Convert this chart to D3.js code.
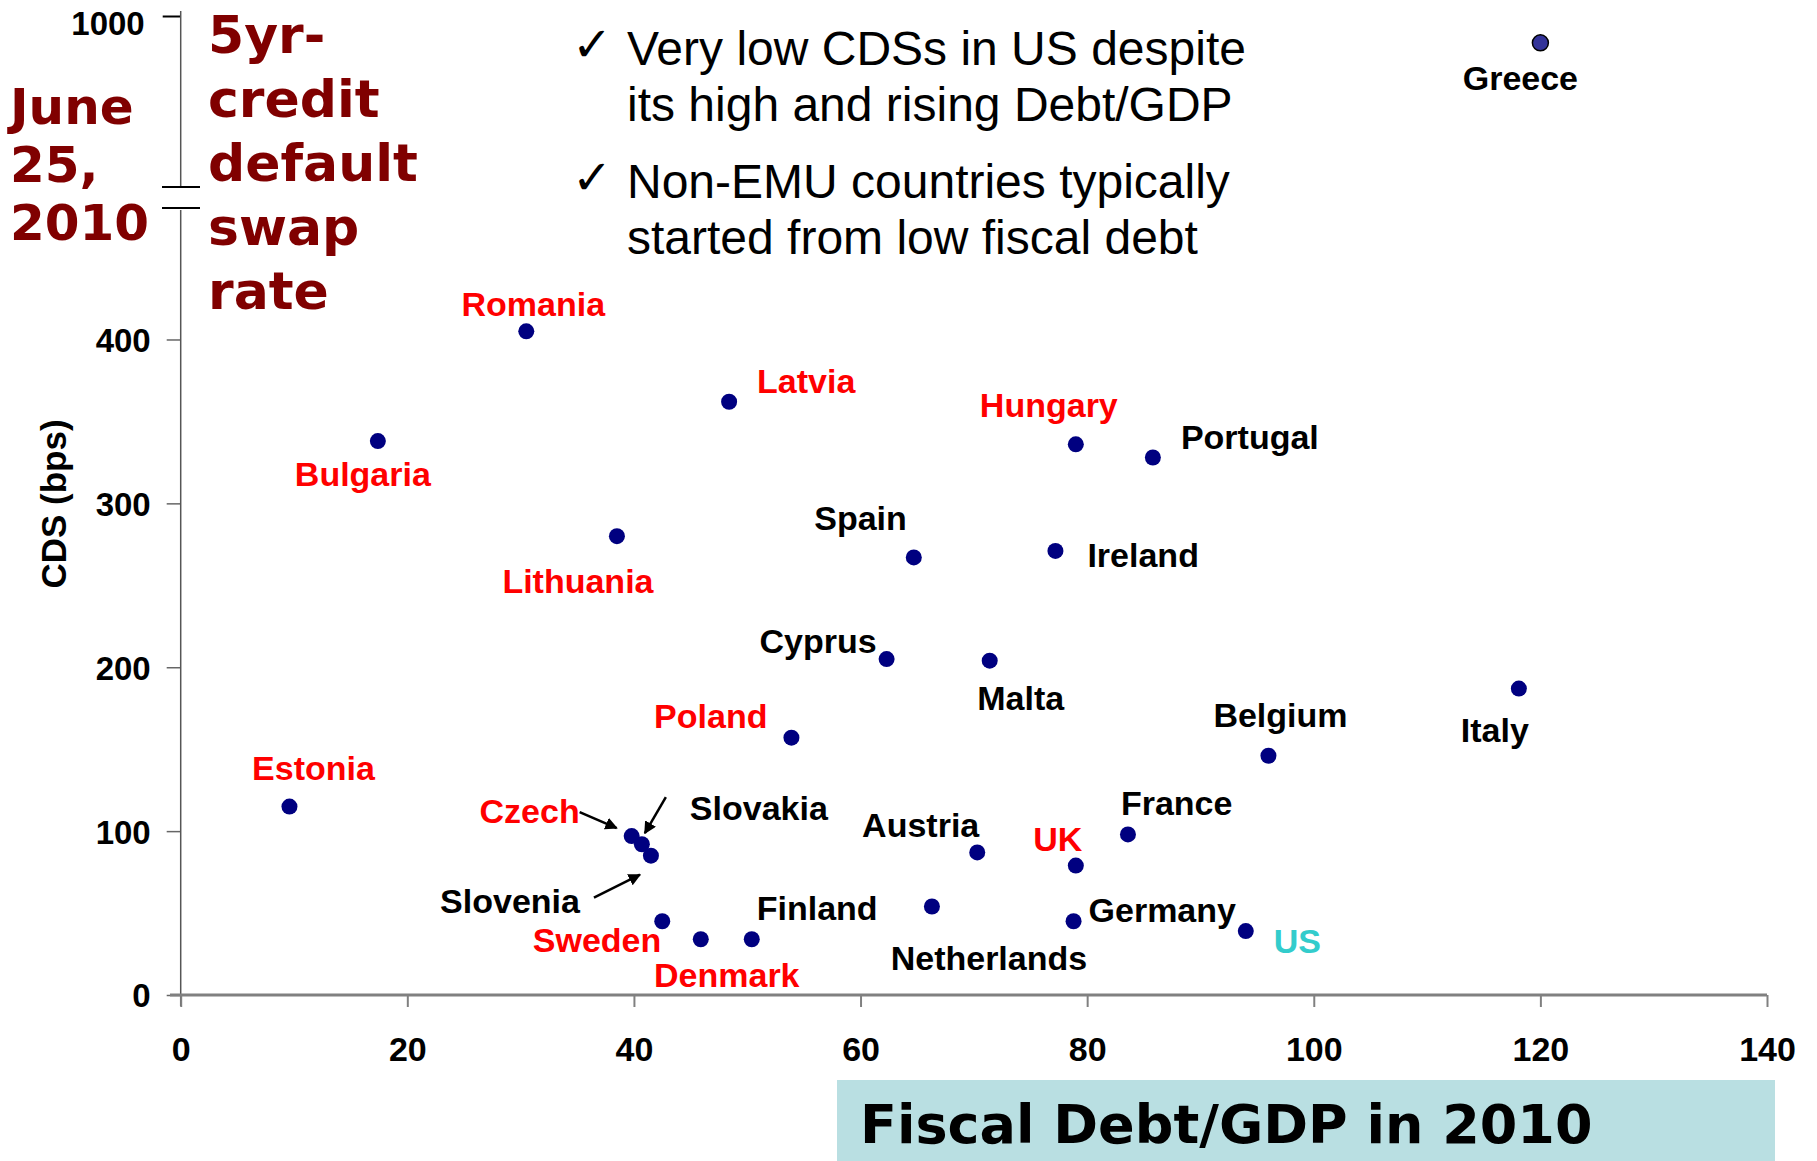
<!DOCTYPE html>
<html><head><meta charset="utf-8">
<script src="https://cdn.jsdelivr.net/npm/d3@7"></script>
<style>body{margin:0;background:#fff}svg{display:block}</style>
</head><body><svg id="c" width="1817" height="1161"></svg>
<script>
// ---------- data ----------
const countries = ["Greece","Romania","Latvia","Bulgaria","Hungary","Portugal","Lithuania","Spain","Ireland","Cyprus","Malta","Italy","Poland","Belgium","Estonia","Czech","Slovakia","Slovenia","France","Austria","UK","Netherlands","Germany","US","Sweden","Denmark","Finland"];
const debtGDP   = [120.0, 30.5, 48.4, 17.4, 79.0, 85.8, 38.5, 64.7, 77.2, 62.3, 71.4, 118.1, 53.9, 96.0, 9.6, 39.8, 40.7, 41.5, 83.6, 70.3, 79.0, 66.3, 78.8, 94.0, 42.5, 45.9, 50.4];
const cdsBps    = [916, 405, 362, 338, 336, 328, 280, 267, 271, 205, 204, 187, 157, 146, 115, 97, 92, 85, 98, 87, 79, 54, 45, 39, 45, 34, 34];
const groups    = ["EMU","nonEMU","nonEMU","nonEMU","nonEMU","EMU","nonEMU","EMU","EMU","EMU","EMU","EMU","nonEMU","EMU","nonEMU","nonEMU","EMU","EMU","EMU","EMU","nonEMU","EMU","EMU","US","nonEMU","nonEMU","EMU"];
const xTicks = [0,20,40,60,80,100,120,140];
const yTicksLower = [0,100,200,300,400];
const yTicksUpper = [1000];
const yAxisTitle = "CDS (bps)";
const xAxisTitle = "Fiscal Debt/GDP in 2010";
const seriesTitle = ["5yr-","credit","default","swap","rate"];
const dateTitle = ["June","25,","2010"];
const notes = [["Very low CDSs in US despite","its high and rising Debt/GDP"],["Non-EMU countries typically","started from low fiscal debt"]];

// ---------- layout ----------
const labelPos = { // anchor, dx, dy (px from point)
  Greece:["middle",-20,47], Romania:["middle",7,-15], Latvia:["start",28,-9], Bulgaria:["middle",-15,45],
  Hungary:["middle",-27,-27], Portugal:["start",28,-8], Lithuania:["middle",-39,57], Spain:["end",-7,-27],
  Ireland:["start",32,16], Cyprus:["end",-10,-6], Malta:["middle",31,49], Italy:["middle",-24,53],
  Poland:["end",-24,-10], Belgium:["middle",12,-29], Estonia:["middle",24,-27], Czech:["end",-52,-13],
  Slovakia:["start",48,-24], Slovenia:["end",-71,57], France:["start",-7,-19], Austria:["end",2,-15],
  UK:["middle",-18,-15], Netherlands:["middle",57,63], Germany:["start",15,1], US:["start",28,22],
  Sweden:["end",-1,31], Denmark:["middle",26,48], Finland:["start",5,-19]
};
const arrows = { Czech:[-52,-24,-15,-8], Slovakia:[24,-47,3,-11], Slovenia:[-57,42,-11,19] };
const groupColor = {EMU:"#000000", nonEMU:"#ff0000", US:"#33cccc"};

const svg = d3.select("#c");
const x = d3.scaleLinear().domain([0,140]).range([180.7,1767]);
const yLow = d3.scaleLinear().domain([0,500]).range([995,175.6]);
const yHigh = d3.scaleLinear().domain([500,1000]).range([175.6,16]);
const y = v => v > 500 ? yHigh(v) : yLow(v);

const axisX = 180.7;
const tickFont = "'Liberation Sans', Arial, sans-serif";
const vFont = "'DejaVu Sans', Verdana, sans-serif";

// defs arrowhead
svg.append("defs").append("marker").attr("id","ah").attr("viewBox","0 0 10 10")
  .attr("refX",9).attr("refY",5).attr("markerWidth",5).attr("markerHeight",5).attr("orient","auto")
  .append("path").attr("d","M0,0 L10,5 L0,10 z").attr("fill","#000");

// x-axis label box
svg.append("rect").attr("x",837).attr("y",1080).attr("width",938).attr("height",81).attr("fill","#b9dfe2");
svg.append("text").attr("x",860).attr("y",1143).text(xAxisTitle)
  .attr("font-family",vFont).attr("font-weight","bold").attr("font-size",54).attr("fill","#000");

// y axis lower
const gyl = svg.append("g").attr("transform",`translate(${axisX},0)`)
  .call(d3.axisLeft(yLow).tickValues(yTicksLower).tickSize(14).tickSizeOuter(0).tickPadding(16).tickFormat(d3.format("d")));
gyl.select(".domain").remove();
gyl.selectAll(".tick line").attr("stroke","#666").attr("stroke-width",1.5);
gyl.selectAll(".tick text").attr("font-family",tickFont).attr("font-weight","bold").attr("font-size",33).attr("fill","#000").attr("dy","0.36em");
const gyh = svg.append("g").attr("transform",`translate(${axisX},0)`)
  .call(d3.axisLeft(yHigh).tickValues(yTicksUpper).tickSize(18).tickSizeOuter(0).tickPadding(18).tickFormat(d3.format("d")));
gyh.select(".domain").remove();
gyh.selectAll(".tick line").attr("stroke","#000").attr("stroke-width",2);
gyh.selectAll(".tick text").attr("font-family",tickFont).attr("font-weight","bold").attr("font-size",33).attr("fill","#000").attr("dy","0.55em");

// axis lines
svg.append("line").attr("x1",axisX).attr("x2",axisX).attr("y1",yHigh(1000)-5).attr("y2",187).attr("stroke","#555").attr("stroke-width",1.5);
svg.append("line").attr("x1",axisX).attr("x2",axisX).attr("y1",210).attr("y2",1006).attr("stroke","#555").attr("stroke-width",1.5);
[187,208].forEach(v=>svg.append("line").attr("x1",162).attr("x2",200).attr("y1",v).attr("y2",v).attr("stroke","#000").attr("stroke-width",2));

// x axis
const gx = svg.append("g").attr("transform",`translate(0,${yLow(0)})`)
  .call(d3.axisBottom(x).tickValues(xTicks).tickSize(12).tickSizeOuter(0).tickPadding(30));
gx.select(".domain").remove();
gx.selectAll(".tick line").attr("stroke","#808080").attr("stroke-width",2);
gx.selectAll(".tick text").attr("font-family",tickFont).attr("font-weight","bold").attr("font-size",34).attr("fill","#000");
svg.append("line").attr("x1",170).attr("x2",x(140)).attr("y1",yLow(0)).attr("y2",yLow(0)).attr("stroke","#808080").attr("stroke-width",3);

// y axis title
svg.append("text").attr("transform","translate(66,504) rotate(-90)").attr("text-anchor","middle")
  .text(yAxisTitle).attr("font-family",tickFont).attr("font-weight","bold").attr("font-size",35);

// titles
svg.append("text").attr("font-family",vFont).attr("font-weight","bold").attr("font-size",52).attr("fill","#800000")
  .selectAll("tspan").data(seriesTitle).join("tspan").attr("x",208).attr("y",(d,i)=>53+i*64).text(d=>d);
svg.append("text").attr("font-family",vFont).attr("font-weight","bold").attr("font-size",50).attr("fill","#800000")
  .selectAll("tspan").data(dateTitle).join("tspan").attr("x",10).attr("y",(d,i)=>124+i*58).text(d=>d);

// notes
notes.forEach((lines,k)=>{
  const by = 65 + k*133;
  svg.append("text").attr("x",572).attr("y",by-4).text("\u2713").attr("font-family",vFont).attr("font-weight","bold").attr("font-size",48).attr("fill","#000");
  svg.append("text").attr("font-family",tickFont).attr("font-size",48).attr("fill","#000")
    .selectAll("tspan").data(lines).join("tspan").attr("x",627).attr("y",(d,i)=>by+i*56).text(d=>d);
});

// data
const data = countries.map((c,i)=>({c, dx:debtGDP[i], cds:cdsBps[i], g:groups[i]}));

// arrows
Object.entries(arrows).forEach(([c,a])=>{
  const d = data.find(o=>o.c===c);
  svg.append("line").attr("x1",x(d.dx)+a[0]).attr("y1",y(d.cds)+a[1]).attr("x2",x(d.dx)+a[2]).attr("y2",y(d.cds)+a[3])
    .attr("stroke","#000").attr("stroke-width",2.5).attr("marker-end","url(#ah)");
});

svg.append("g").selectAll("circle").data(data).join("circle")
  .attr("cx",d=>x(d.dx)).attr("cy",d=>y(d.cds)).attr("r",8)
  .attr("fill",d=>d.c==="Greece"?"#333399":"#000080")
  .attr("stroke",d=>d.c==="Greece"?"#000":"none").attr("stroke-width",1.5);

svg.append("g").selectAll("text").data(data).join("text")
  .attr("x",d=>x(d.dx)+labelPos[d.c][1]).attr("y",d=>y(d.cds)+labelPos[d.c][2])
  .attr("text-anchor",d=>labelPos[d.c][0]).text(d=>d.c)
  .attr("font-family",tickFont).attr("font-weight","bold").attr("font-size",34)
  .attr("fill",d=>groupColor[d.g]);
</script></body></html>
